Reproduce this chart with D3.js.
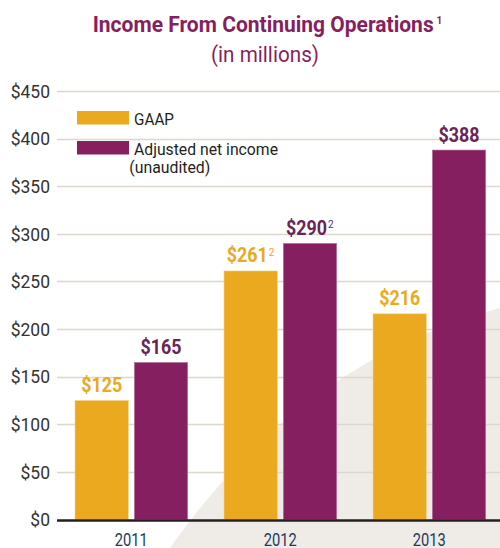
<!DOCTYPE html>
<html>
<head>
<meta charset="utf-8">
<script src="https://cdn.jsdelivr.net/npm/d3@7"></script>
<style>
  body { margin: 0; background: #fff; }
  svg { display: block; font-family: Roboto, "Liberation Sans", sans-serif; }
</style>
</head>
<body>
<div id="chart"></div>
<script>
var years = ["2011", "2012", "2013"];
var gaap = [125, 261, 216];
var adjusted = [165, 290, 388];
var gaapNotes = ["", "2", ""];
var adjustedNotes = ["", "2", ""];
var yTicks = [0, 50, 100, 150, 200, 250, 300, 350, 400, 450];

var width = 500, height = 548;
var orange = "#EBA920", purple = "#861F60", purpleText = "#6A2556";

var svg = d3.select("#chart").append("svg")
  .attr("width", width)
  .attr("height", height);

var margin = {top: 91, left: 57, bottom: 28};
var y = d3.scaleLinear().domain([0, 450]).range([height - margin.bottom - 0.5, margin.top]);
var x0 = d3.scaleBand().domain(years).range([50, 497]);
var x1 = d3.scaleBand().domain(["gaap", "adj"]).range([25, 137.7]).paddingInner(0.1);

// light grey shape behind the bars
svg.append("path")
  .attr("d", "M170,548 Q300,362 500,308 L500,548 Z")
  .attr("fill", "#EFECE8");

// gridlines
svg.append("g").selectAll("line")
  .data(yTicks.filter(function(d){ return d > 0; }))
  .enter().append("line")
  .attr("x1", margin.left).attr("x2", width)
  .attr("y1", function(d){ return Math.round(y(d)) + 0.5; })
  .attr("y2", function(d){ return Math.round(y(d)) + 0.5; })
  .attr("stroke", "#DCD6CC")
  .attr("stroke-width", 1.6);

// y axis labels
var yAxis = d3.axisLeft(y).tickValues(yTicks).tickSize(0).tickPadding(0)
  .tickFormat(function(d){ return "$" + d; });
var yg = svg.append("g").attr("transform", "translate(50,0)").call(yAxis);
yg.select(".domain").remove();
yg.selectAll("text")
  .attr("fill", "#333")
  .style("font-family", "Roboto")
  .style("font-size", "17.5px")
  .attr("dy", "0.36em");

// bars
var groups = svg.append("g").selectAll("g")
  .data(years)
  .enter().append("g")
  .attr("transform", function(d){ return "translate(" + x0(d) + ",0)"; });

groups.append("rect")
  .attr("x", x1("gaap"))
  .attr("width", x1.bandwidth())
  .attr("y", function(d, i){ return y(gaap[i]); })
  .attr("height", function(d, i){ return y(0) - y(gaap[i]); })
  .attr("fill", orange)
  .attr("stroke", "#F3D48A").attr("stroke-width", 0.6);

groups.append("rect")
  .attr("x", x1("adj"))
  .attr("width", x1.bandwidth())
  .attr("y", function(d, i){ return y(adjusted[i]); })
  .attr("height", function(d, i){ return y(0) - y(adjusted[i]); })
  .attr("fill", purple)
  .attr("stroke", "#B57A9F").attr("stroke-width", 0.6);

// value labels, squeezed to look condensed; label + note centred together
function valueLabel(sel, key, vals, notes, color) {
  var cx = x1(key) + x1.bandwidth() / 2;
  function left(i) { return notes[i] ? cx - 24 : cx - 20.5; }
  sel.append("text")
    .attr("x", function(d, i){ return left(i); })
    .attr("y", function(d, i){ return y(vals[i]) - 8.5; })
    .attr("textLength", 41)
    .attr("lengthAdjust", "spacingAndGlyphs")
    .attr("fill", color)
    .style("font-size", "21px")
    .style("font-weight", "bold")
    .text(function(d, i){ return "$" + vals[i]; });
  sel.append("text")
    .attr("x", function(d, i){ return left(i) + 42; })
    .attr("y", function(d, i){ return y(vals[i]) - 15; })
    .attr("fill", color)
    .style("font-size", "10px")
    .text(function(d, i){ return notes[i]; });
}
valueLabel(groups, "gaap", gaap, gaapNotes, orange);
valueLabel(groups, "adj", adjusted, adjustedNotes, purpleText);

// baseline
svg.append("line")
  .attr("x1", margin.left).attr("x2", width)
  .attr("y1", y(0) + 1).attr("y2", y(0) + 1)
  .attr("stroke", "#231F20").attr("stroke-width", 2.5);

// x axis labels
groups.append("text")
  .attr("x", x1("gaap") + x1.bandwidth() + (x1.step() - x1.bandwidth()) / 2 - 16.5)
  .attr("y", 546)
  .attr("textLength", 33)
  .attr("lengthAdjust", "spacingAndGlyphs")
  .attr("fill", "#1D3A5C")
  .style("font-size", "17.5px")
  .text(function(d){ return d; });

// legend
var legend = svg.append("g").attr("transform", "translate(77,111)");
legend.append("rect").attr("width", 52).attr("height", 13.5).attr("fill", orange);
legend.append("text").attr("x", 57).attr("y", 13.5).attr("fill", "#231F20")
  .attr("textLength", 40).attr("lengthAdjust", "spacingAndGlyphs")
  .style("font-size", "16.5px").text("GAAP");
legend.append("rect").attr("y", 30).attr("width", 52).attr("height", 13.5).attr("fill", purple);
legend.append("text").attr("x", 57).attr("y", 43.5).attr("fill", "#231F20")
  .attr("textLength", 144).attr("lengthAdjust", "spacingAndGlyphs")
  .style("font-size", "16.5px").text("Adjusted net income");
legend.append("text").attr("x", 52.3).attr("y", 62).attr("fill", "#231F20")
  .attr("textLength", 81).attr("lengthAdjust", "spacingAndGlyphs")
  .style("font-size", "16.5px").text("(unaudited)");

// title
svg.append("text")
  .attr("x", 92.7).attr("y", 32.3)
  .attr("textLength", 341)
  .attr("lengthAdjust", "spacingAndGlyphs")
  .attr("fill", purple)
  .style("font-size", "22.5px")
  .style("font-weight", "bold")
  .text("Income From Continuing Operations");
svg.append("text")
  .attr("x", 436.5).attr("y", 24)
  .attr("fill", purple)
  .style("font-size", "10px")
  .style("font-weight", "bold")
  .text("1");
svg.append("text")
  .attr("x", 211).attr("y", 62)
  .attr("textLength", 108)
  .attr("lengthAdjust", "spacingAndGlyphs")
  .attr("fill", purple)
  .style("font-size", "22.5px")
  .text("(in millions)");
</script>
</body>
</html>
